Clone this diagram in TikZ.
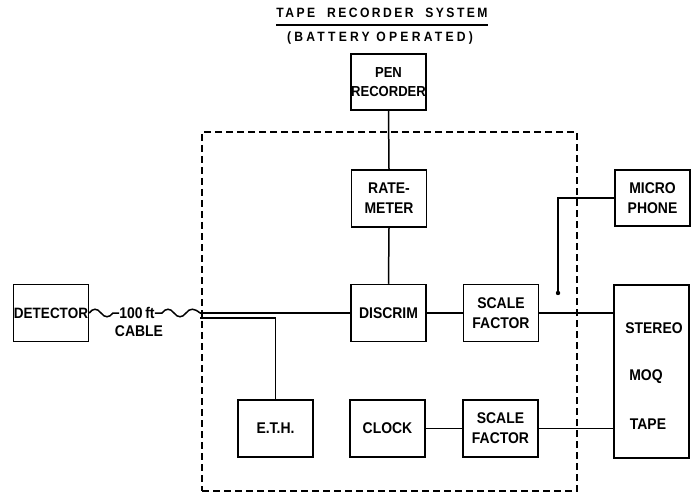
\documentclass[tikz,border=0pt]{standalone}
\usepackage{fontspec}
\setmainfont{Liberation Sans}
\newfontfamily\lett[FakeStretch=0.9]{Liberation Sans}
\newfontfamily\letta[FakeStretch=0.9,LetterSpace=18]{Liberation Sans}
\newfontfamily\lettb[FakeStretch=0.9,LetterSpace=24]{Liberation Sans}
\begin{document}
\begin{tikzpicture}[x=1pt,y=-1pt,
  box/.style={draw, line width=1.5pt, minimum width=75pt, minimum height=57pt,
    inner sep=0pt, align=center, font=\lett\bfseries\fontsize{15.5}{20}\selectfont},
  wire/.style={line width=1.5pt},
  lbl/.style={inner sep=0pt, font=\lett\bfseries\fontsize{15.5}{20}\selectfont},
  frame/.style={draw, line width=1.2pt, dash pattern=on 7pt off 4pt, inner sep=0pt},
  ttl/.style={inner sep=0pt, font=\letta\bfseries\fontsize{13.5}{16}\selectfont},
  subttl/.style={inner sep=0pt, font=\lettb\bfseries\fontsize{13.5}{16}\selectfont}]
\useasboundingbox (0,0) rectangle (700,494);

% title
\node[ttl] (title) at (382,13) {TAPE\hspace{6pt} RECORDER\hspace{6pt} SYSTEM};
\draw[wire] ([yshift=-7pt]title.south west) -- ([yshift=-7pt]title.south east);
\node[subttl] (sub) at (380,38) {(BATTERY OPERATED)};

% dashed enclosure
\node[frame, minimum width=375pt, minimum height=359pt] (encl) at (389.5,311.5) {};

% boxes
\node[box, minimum height=56pt, font=\lett\bfseries\fontsize{14.5}{19}\selectfont] (pen) at (388.5,82) {PEN\\RECORDER};
\node[box] (rate) at (389,198.5) {RATE-\\METER};
\node[box] (disc) at (388.5,313) {DISCRIM};
\node[box] (sf1) at (501,313) {SCALE\\FACTOR};
\node[box, minimum height=56pt] (mic) at (652.5,198) {MICRO\\PHONE};
\node[box, minimum height=173pt] (tape) at (651.5,371.5) {};
\node[lbl] (stereo) at (654,328) {STEREO};
\node[lbl] (moq) at (646,377) {MOQ};
\node[lbl] (tapet) at (648,424) {TAPE};
\node[box, font=\lett\bfseries\fontsize{15}{19}\selectfont] (det) at (51,313) {DETECTOR};
\node[box] (eth) at (275.5,428.5) {E.T.H.};
\node[box] (clock) at (387.5,428.5) {CLOCK};
\node[box] (sf2) at (500.5,428.5) {SCALE\\FACTOR};

% cable
\node[lbl] (ft) at (137,313) {100\,ft};
\node[lbl] (cable) at (139,331) {CABLE};
\coordinate (cin) at (200,313);
\coordinate (cin2) at (200,318);
\draw[wire] (det.east) .. controls (93,308) and (97,308) .. (101,313)
  .. controls (105,318) and (109,318) .. (113,313) -- (ft.west);
\draw[wire] (ft.east) -- (162,313) .. controls (166,308) and (170,308) .. (174,313)
  .. controls (178,318) and (182,318) .. (186,313)
  .. controls (190,308) and (194,308) .. (cin);
\draw[wire] (cin) -- (disc.west);
\draw[wire] (cin2) -| (eth.north);

% signal chain
\draw[wire] (pen.south) -- (rate.north);
\draw[wire] (rate.south) -- (disc.north);
\draw[wire] (disc.east) -- (sf1.west);
\draw[wire] (sf1.east) -- (sf1.east -| tape.west);
\draw[wire] (clock.east) -- (sf2.west);
\draw[wire] (sf2.east) -- (sf2.east -| tape.west);

% microphone
\coordinate (mj) at (558,293);
\draw[wire] (mic.west) -| (mj);
\fill (mj) circle (2.2pt);
\end{tikzpicture}
\end{document}
